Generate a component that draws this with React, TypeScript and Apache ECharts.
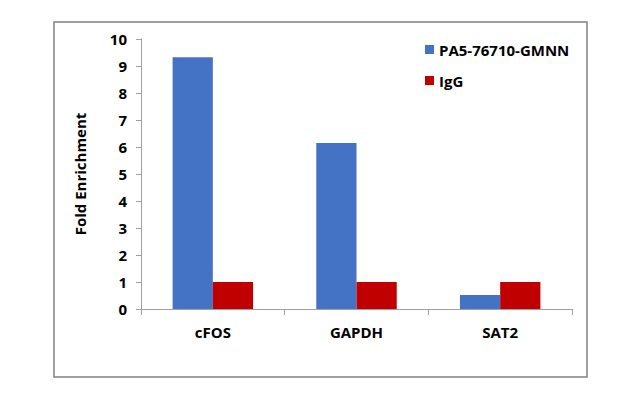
import React, { useEffect, useRef } from "react";
import * as echarts from "echarts";

const categories = ["cFOS", "GAPDH", "SAT2"];
const antibodyValues = [9.32, 6.15, 0.52];
const iggValues = [1.0, 1.0, 1.0];
const seriesNames = ["PA5-76710-GMNN", "IgG"];
const yTicks = [0, 1, 2, 3, 4, 5, 6, 7, 8, 9, 10];

const FONT = "'Open Sans', 'Liberation Sans', sans-serif";

export default function App() {
  const ref = useRef<HTMLDivElement>(null);
  useEffect(() => {
    document.body.style.margin = "0";
    const chart = echarts.init(ref.current!, null, { renderer: "svg" });
    chart.setOption({
      animation: false,
      backgroundColor: "#ffffff",
      graphic: [
        {
          type: "rect",
          shape: { x: 54, y: 22, width: 533, height: 355 },
          style: { fill: "none", stroke: "#808080", lineWidth: 1.5 },
        },
      ],
      legend: {
        orient: "vertical",
        left: 420,
        top: 37,
        itemWidth: 9,
        itemHeight: 9,
        itemGap: 16,
        icon: "rect",
        textStyle: { fontFamily: FONT, fontWeight: "bold", fontSize: 15, color: "#000" },
        data: seriesNames,
      },
      grid: { left: 141, right: 69, top: 39, bottom: 103, containLabel: false },
      xAxis: {
        type: "category",
        data: categories,
        axisLine: { lineStyle: { color: "#a0a0a0" } },
        axisTick: { show: true, length: 6, lineStyle: { color: "#a0a0a0" } },
        axisLabel: { margin: 15, fontFamily: FONT, fontWeight: "bold", fontSize: 15, color: "#000" },
      },
      yAxis: {
        type: "value",
        min: 0,
        max: 10,
        interval: 1,
        name: "Fold Enrichment",
        nameLocation: "middle",
        nameGap: 54,
        nameRotate: 90,
        nameTextStyle: { fontFamily: FONT, fontWeight: "bold", fontSize: 15, color: "#000" },
        axisLine: { show: true, lineStyle: { color: "#a0a0a0" } },
        axisTick: { show: true, length: 5, lineStyle: { color: "#a0a0a0" } },
        splitLine: { show: false },
        axisLabel: {
          margin: 14,
          fontFamily: FONT,
          fontWeight: "bold",
          fontSize: 15,
          color: "#000",
          formatter: (v: number) => (yTicks.includes(v) ? String(v) : ""),
        },
      },
      series: [
        {
          name: seriesNames[0],
          type: "bar",
          data: antibodyValues,
          itemStyle: { color: "#4472C4" },
          barGap: "0%",
          barCategoryGap: "44%",
        },
        {
          name: seriesNames[1],
          type: "bar",
          data: iggValues,
          itemStyle: { color: "#C00000" },
          barGap: "0%",
          barCategoryGap: "44%",
        },
      ],
    });
    return () => chart.dispose();
  }, []);
  return <div ref={ref} style={{ width: 641, height: 412 }} />;
}
